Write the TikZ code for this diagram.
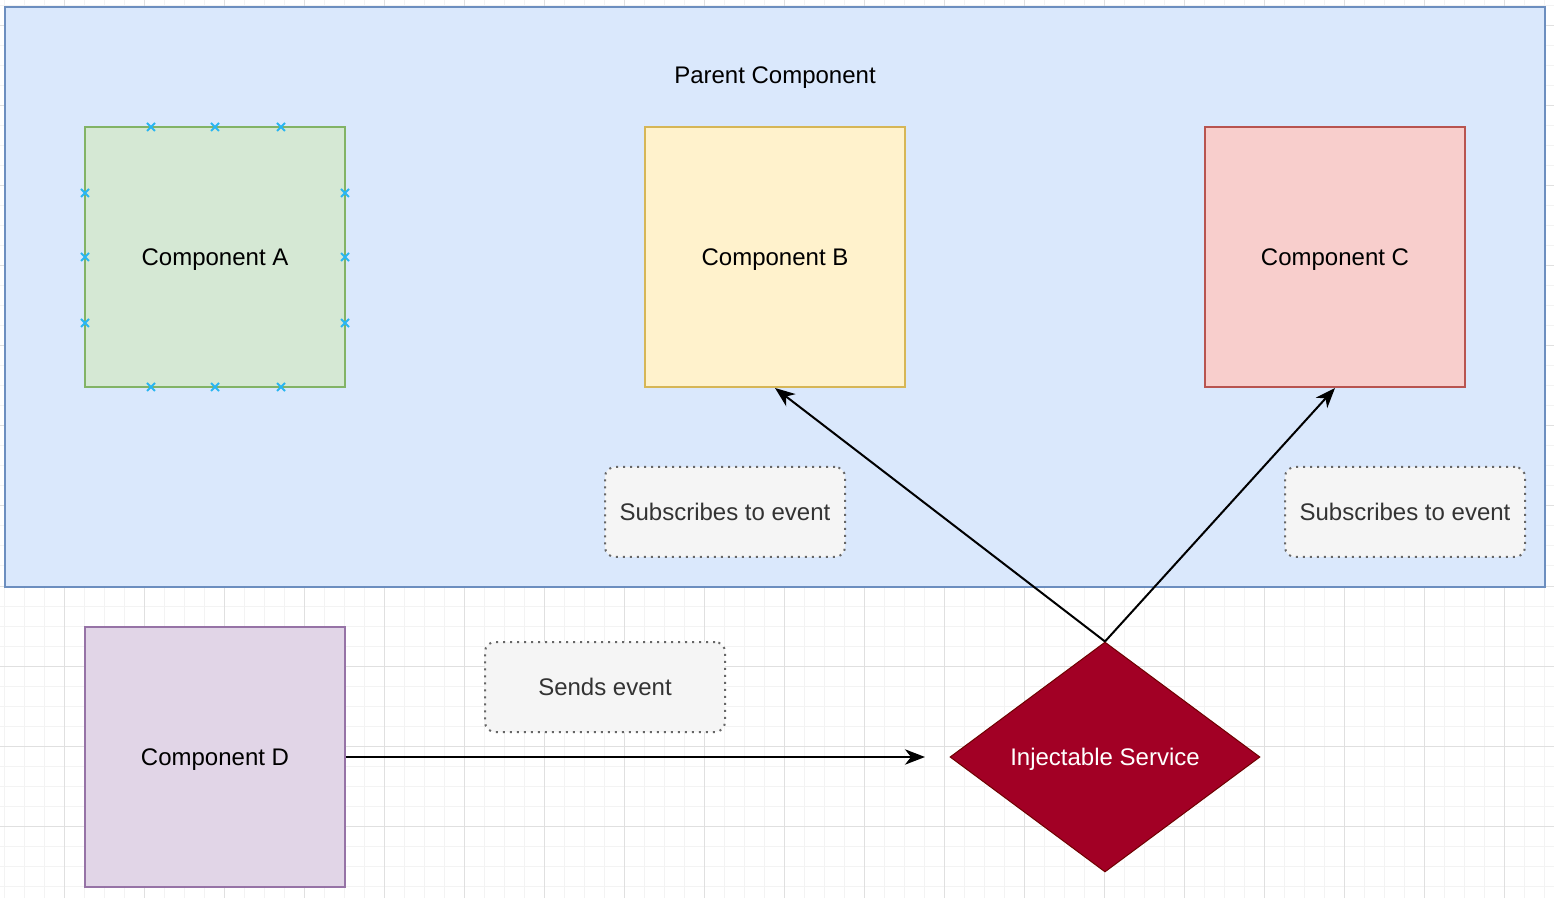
\documentclass[tikz,border=0pt]{standalone}
\usepackage{fontspec}
\setmainfont{Liberation Sans}
\usetikzlibrary{arrows.meta,shapes.geometric,positioning}

\definecolor{parentfill}{HTML}{DAE8FC}
\definecolor{parentline}{HTML}{6C8EBF}
\definecolor{greenfill}{HTML}{D5E8D4}
\definecolor{greenline}{HTML}{82B366}
\definecolor{yellowfill}{HTML}{FFF2CC}
\definecolor{yellowline}{HTML}{D6B656}
\definecolor{redfill}{HTML}{F8CECC}
\definecolor{redline}{HTML}{B85450}
\definecolor{purplefill}{HTML}{E1D5E7}
\definecolor{purpleline}{HTML}{9673A6}
\definecolor{notefill}{HTML}{F5F5F5}
\definecolor{noteline}{HTML}{666666}
\definecolor{notetext}{HTML}{333333}
\definecolor{servicefill}{HTML}{A20025}
\definecolor{serviceline}{HTML}{6F0000}
\definecolor{pointblue}{HTML}{29B6F2}
\definecolor{minorgrid}{HTML}{F3F3F3}
\definecolor{majorgrid}{HTML}{E0E0E0}

\tikzset{
  txt/.style={font=\fontsize{18}{21.6}\selectfont, text depth=0pt},
  comp/.style={txt, draw, line width=1.5pt, minimum width=195pt, minimum height=195pt},
  note/.style={txt, draw=noteline, fill=notefill, line width=1.5pt, rounded corners=7.5pt,
    dash pattern=on 1.5pt off 3.75pt, minimum width=180pt, minimum height=67.5pt,
    text=notetext},
  cross/.style={pointblue, line width=1.5pt},
  flow/.style={-{Stealth[length=15pt,width=11.5pt,inset=4.5pt]}, line width=1.5pt}
}

\begin{document}
\begin{tikzpicture}[x=0.75pt, y=-0.75pt]
        \useasboundingbox (0,0) rectangle (1554,898);
        \fill[white] (0,0) rectangle (1554,898);

        % background grid
        \foreach \gx in {4,24,...,1554} \draw[minorgrid, line width=0.75pt] (\gx,0) -- (\gx,898);
        \foreach \gy in {6,26,...,898} \draw[minorgrid, line width=0.75pt] (0,\gy) -- (1554,\gy);
        \foreach \gx in {64,144,...,1554} \draw[majorgrid, line width=0.75pt] (\gx,0) -- (\gx,898);
        \foreach \gy in {26,106,...,898} \draw[majorgrid, line width=0.75pt] (0,\gy) -- (1554,\gy);

        \node[draw=parentline, fill=parentfill, line width=1.5pt, minimum width=1155pt,
          minimum height=435pt] at (775, 297)(parent){};
        \node[txt] at (775, 75)(parentlabel){Parent Component};

        \node[comp, draw=greenline, fill=greenfill] at (215, 257)(compA){Component A};
        \node[comp, draw=yellowline, fill=yellowfill] at (775, 257)(compB){Component B};
        \node[comp, draw=redline, fill=redfill] at (1335, 257)(compC){Component C};
        \node[comp, draw=purpleline, fill=purplefill] at (215, 757)(compD){Component D};

        % connection points of component A
        \foreach \px in {151,215,281} {
          \draw[cross] (\px-4,123) -- (\px+4,131) (\px-4,131) -- (\px+4,123);
          \draw[cross] (\px-4,383) -- (\px+4,391) (\px-4,391) -- (\px+4,383);
        }
        \foreach \py in {193,257,323} {
          \draw[cross] (81,\py-4) -- (89,\py+4) (81,\py+4) -- (89,\py-4);
          \draw[cross] (341,\py-4) -- (349,\py+4) (341,\py+4) -- (349,\py-4);
        }

        \node[note] at (725, 512)(subB){Subscribes to event};
        \node[note] at (1405, 512)(subC){Subscribes to event};
        \node[note] at (605, 687)(sends){Sends event};

        \node[diamond, txt, draw=serviceline, fill=servicefill, line width=0.75pt, inner sep=0pt,
          minimum width=232.5pt, minimum height=172.5pt, text=white] at (1105, 757)(service){Injectable Service};
        \coordinate (sendend) at (925, 757);

        \path[flow]
        (compD.east) edge (sendend)
        (service.north) edge (compB.south)
        (service.north) edge (compC.south)
        ;
    \end{tikzpicture}
\end{document}
